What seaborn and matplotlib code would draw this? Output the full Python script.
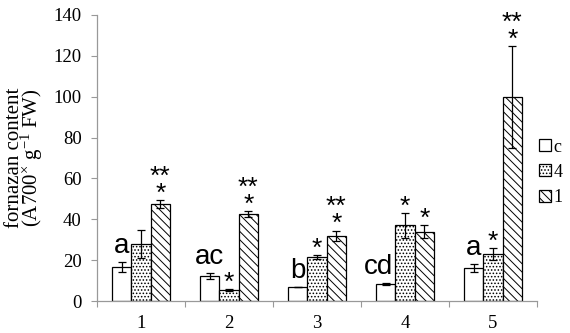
import pandas as pd
import numpy as np
import matplotlib
matplotlib.use("Agg")
import matplotlib.pyplot as plt
import seaborn as sns

# data
groups = ["1", "2", "3", "4", "5"]
treatments = ["c", "4", "1"]
val_c = [16.5, 12.3, 7.0, 8.3, 16.0]
val_4 = [28.0, 5.4, 21.5, 37.0, 23.0]
val_1 = [47.5, 42.6, 32.0, 34.0, 99.7]
err_c = [2.5, 1.5, 0.0, 0.3, 2.0]
err_4 = [7.0, 0.5, 1.0, 6.0, 3.0]
err_1 = [2.0, 1.5, 2.5, 3.0, 25.0]
letters = ["a", "ac", "b", "cd", "a"]
stars_4 = ["", "*", "*", "*", "*"]
stars_1 = ["**\n*", "**\n*", "**\n*", "*", "**\n*"]
ylabel = "fornazan content\n(A700$^{\\times}$ g$^{-1}$ FW)"

df = pd.DataFrame({
    "group": groups * 3,
    "treatment": sum([[t] * 5 for t in treatments], []),
    "value": val_c + val_4 + val_1,
})
errs = err_c + err_4 + err_1

sns.set_theme(style="white")
plt.rcParams["font.family"] = ["Liberation Serif", "DejaVu Serif"]
plt.rcParams["mathtext.fontset"] = "custom"
plt.rcParams["mathtext.rm"] = "Liberation Serif"
plt.rcParams["mathtext.it"] = "Liberation Serif:italic"
plt.rcParams["text.color"] = "black"
plt.rcParams["axes.labelcolor"] = "black"
plt.rcParams["hatch.linewidth"] = 0.7

fig = plt.figure(figsize=(5.7, 3.33), dpi=100)
ax = fig.add_axes([0.170, 0.096, 0.772, 0.859])

sns.barplot(data=df, x="group", y="value", hue="treatment", order=groups,
            hue_order=treatments, palette=["white"] * 3, edgecolor="black",
            linewidth=0.9, width=0.66, errorbar=None, ax=ax)

hatches = ["", ".....", "\\\\\\\\"]
bars = ax.patches[:15]
for i, p in enumerate(bars):
    p.set_hatch(hatches[i // 5])
    p.set_edgecolor("black")

xs = [p.get_x() + p.get_width() / 2 for p in bars]
hs = [p.get_height() for p in bars]
ax.errorbar(xs, hs, yerr=errs, fmt="none", ecolor="black", elinewidth=0.9,
            capsize=3, capthick=0.9)

ax.set_ylim(0, 140)
ax.set_xlim(-0.5, 4.5)

fig.canvas.draw()
renderer = fig.canvas.get_renderer()
inv = ax.transData.inverted()

def stars(x, top, s):
    if s:
        # va="bottom" sits on the descent of the last line, ~2.7 units
        ax.text(x, top - 2.7, s, ha="center", va="bottom", fontsize=19,
                family="Liberation Sans", color="black", linespacing=0.62)

for i in range(5):
    x, top = xs[i], hs[i] + errs[i]
    t = ax.text(x, top + 4.5, letters[i], ha="center", va="baseline",
                fontsize=20, family="Liberation Sans", color="black")
    # keep the letter clear of a taller neighbouring bar
    nb = bars[5 + i]
    if nb.get_height() > top + 4.5:
        bb = t.get_window_extent(renderer)
        right = inv.transform((bb.x1, bb.y0))[0]
        shift = right - nb.get_x() + 0.02
        if shift > 0:
            t.set_x(x - shift)
    stars(xs[5 + i], hs[5 + i] + errs[5 + i], stars_4[i])
    stars(xs[10 + i], hs[10 + i] + errs[10 + i], stars_1[i])

ax.set_yticks(range(0, 141, 20))
ax.set_xticks(range(5))
ax.set_xticks(np.arange(-0.5, 5, 1), minor=True)
ax.tick_params(axis="x", which="major", length=0, labelsize=13.5, pad=10,
               labelcolor="black")
ax.tick_params(axis="x", which="minor", length=4, width=0.8, color="#999999",
               direction="out", bottom=True)
ax.tick_params(axis="y", length=4, width=0.8, color="#999999", direction="out",
               labelsize=13.5, left=True, labelcolor="black", pad=7)
ax.set_xlabel("")
ax.set_ylabel("")
fig.text(25 / 570, 0.526, ylabel, rotation=90, ha="center", va="center",
         fontsize=15, linespacing=0.7, multialignment="center")
for s in ["top", "right"]:
    ax.spines[s].set_visible(False)
for s in ["left", "bottom"]:
    ax.spines[s].set_color("#999999")
    ax.spines[s].set_linewidth(0.9)

leg = ax.legend(loc="center left", bbox_to_anchor=(0.985, 0.45), frameon=False,
                fontsize=13, handlelength=0.65, handleheight=0.65,
                handletextpad=0.15, labelspacing=0.45, borderaxespad=0.1)
for h, hatch in zip(leg.legend_handles, hatches):
    h.set_hatch(hatch)
    h.set_edgecolor("black")
    h.set_facecolor("white")

fig.savefig("out.png", dpi=100)
